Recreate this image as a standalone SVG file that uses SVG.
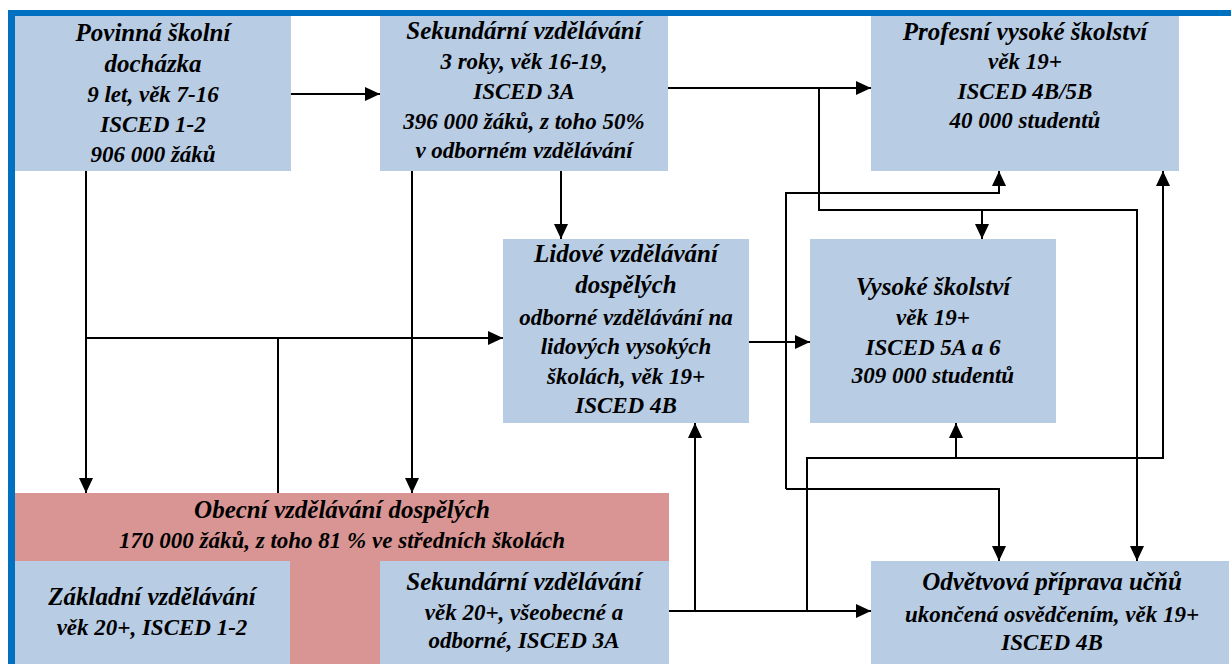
<svg xmlns="http://www.w3.org/2000/svg" width="1231" height="664" viewBox="0 0 1231 664">
<style>
.box{fill:#B8CCE4}
.red{fill:#D99594}
text{font-family:'Liberation Serif','DejaVu Serif',serif;font-style:italic;font-weight:bold;fill:#000;text-anchor:middle}
.t{font-size:25px}
.b{font-size:23px}
.c{fill:none;stroke:#000;stroke-width:2}
</style>
<defs>
<marker id="ah" markerUnits="userSpaceOnUse" markerWidth="15" markerHeight="14" refX="15" refY="7" orient="auto">
<path d="M0,0 L15,7 L0,14 z" fill="#000"/>
</marker>
</defs>
<rect width="1231" height="664" fill="#fff"/>
<g id="frame">
<rect x="8" y="10" width="1223" height="6" fill="#0070C0"/>
<rect x="8" y="10" width="7" height="654" fill="#0070C0"/>
</g>
<g id="povinna">
<rect class="box" x="15" y="16" width="276" height="155"/>
<text class="t" x="153" y="41">Povinná školní</text>
<text class="t" x="153" y="72">docházka</text>
<text class="b" x="153" y="102">9 let, věk 7-16</text>
<text class="b" x="153" y="132">ISCED 1-2</text>
<text class="b" x="153" y="162">906 000 žáků</text>
</g>
<g id="sekundarni">
<rect class="box" x="380" y="16" width="288" height="155"/>
<text class="t" x="524" y="39">Sekundární vzdělávání</text>
<text class="b" x="524" y="69">3 roky, věk 16-19,</text>
<text class="b" x="524" y="99">ISCED 3A</text>
<text class="b" x="524" y="129">396 000 žáků, z toho 50%</text>
<text class="b" x="524" y="158">v odborném vzdělávání</text>
</g>
<g id="profesni">
<rect class="box" x="871" y="16" width="308" height="155"/>
<text class="t" x="1025" y="40">Profesní vysoké školství</text>
<text class="b" x="1025" y="69">věk 19+</text>
<text class="b" x="1025" y="99">ISCED 4B/5B</text>
<text class="b" x="1025" y="128">40 000 studentů</text>
</g>
<g id="lidove">
<rect class="box" x="503" y="239" width="246" height="184"/>
<text class="t" x="626" y="262">Lidové vzdělávání</text>
<text class="t" x="626" y="293">dospělých</text>
<text class="b" x="626" y="325">odborné vzdělávání na</text>
<text class="b" x="626" y="354">lidových vysokých</text>
<text class="b" x="626" y="384">školách, věk 19+</text>
<text class="b" x="626" y="413">ISCED 4B</text>
</g>
<g id="vysoke">
<rect class="box" x="810" y="239" width="246" height="184"/>
<text class="t" x="933" y="295">Vysoké školství</text>
<text class="b" x="933" y="325">věk 19+</text>
<text class="b" x="933" y="355">ISCED 5A a 6</text>
<text class="b" x="933" y="383">309 000 studentů</text>
</g>
<g id="obecni">
<rect class="red" x="15" y="493" width="654" height="171"/>
<text class="t" x="342" y="518">Obecní vzdělávání dospělých</text>
<text class="b" x="342" y="548">170 000 žáků, z toho 81 % ve středních školách</text>
</g>
<g id="zakladni">
<rect class="box" x="15" y="561" width="275" height="103"/>
<text class="t" x="152" y="605">Základní vzdělávání</text>
<text class="b" x="152" y="635">věk 20+, ISCED 1-2</text>
</g>
<g id="sekundarni-dospeli">
<rect class="box" x="380" y="561" width="289" height="103"/>
<text class="t" x="524" y="590">Sekundární vzdělávání</text>
<text class="b" x="524" y="620">věk 20+, všeobecné a</text>
<text class="b" x="524" y="648">odborné, ISCED 3A</text>
</g>
<g id="odvetvova">
<rect class="box" x="871" y="561" width="358" height="103"/>
<text class="t" x="1052" y="590">Odvětvová příprava učňů</text>
<text class="b" x="1052" y="622">ukončená osvědčením, věk 19+</text>
<text class="b" x="1052" y="650">ISCED 4B</text>
</g>
<g id="connectors" class="c">
<path class="c" d="M291,94 H380" marker-end="url(#ah)"/>
<path class="c" d="M86,171 V493" marker-end="url(#ah)"/>
<path class="c" d="M86,338 H503" marker-end="url(#ah)"/>
<path class="c" d="M278,338 V493"/>
<path class="c" d="M412,171 V493" marker-end="url(#ah)"/>
<path class="c" d="M561,171 V239" marker-end="url(#ah)"/>
<path class="c" d="M668,88 H871" marker-end="url(#ah)"/>
<path class="c" d="M819,88 V210 H1137 V561" marker-end="url(#ah)"/>
<path class="c" d="M982,210 V239" marker-end="url(#ah)"/>
<path class="c" d="M749,342 H810" marker-end="url(#ah)"/>
<path class="c" d="M786,489 V193 H999 V171" marker-end="url(#ah)"/>
<path class="c" d="M786,489 H999 V561" marker-end="url(#ah)"/>
<path class="c" d="M669,611 H871" marker-end="url(#ah)"/>
<path class="c" d="M695,611 V423" marker-end="url(#ah)"/>
<path class="c" d="M807,611 V458 H1163 V171" marker-end="url(#ah)"/>
<path class="c" d="M956,458 V423" marker-end="url(#ah)"/>
</g>
</svg>
